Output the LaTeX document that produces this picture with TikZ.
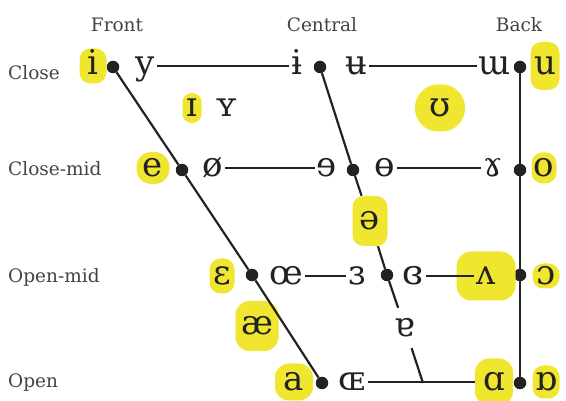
\documentclass[tikz,border=0pt]{standalone}
\usepackage{fontspec}
\setmainfont{DejaVu Serif}
\usepackage{tikz}
\definecolor{marker}{RGB}{240,230,48}
\definecolor{ink}{RGB}{34,34,34}

\begin{document}
\begin{tikzpicture}[x=1pt,y=-1pt,
    dot/.style={circle,fill=ink,inner sep=0pt,minimum size=12.5pt},
    ipa/.style={anchor=base,text=ink,inner sep=2pt,text height=18pt,text depth=0pt,
      font=\fontsize{34}{40}\selectfont},
    hl/.style={ipa,fill=marker,rounded corners=11pt},
    lbl/.style={text=ink!85,inner sep=0pt,font=\fontsize{18.5}{22}\selectfont},
    conn/.style={draw=ink,line width=2.2pt}]
    \useasboundingbox (0,0) rectangle (566,401);
    % column and row labels
    \node[lbl,anchor=base] (front) at (117,32) {Front};
    \node[lbl,anchor=base] (central) at (322,32) {Central};
    \node[lbl,anchor=base] (back) at (519,32) {Back};
    \node[lbl,anchor=base west] (close) at (8,80) {Close};
    \node[lbl,anchor=base west] (closemid) at (8,176) {Close-mid};
    \node[lbl,anchor=base west] (openmid) at (8,283) {Open-mid};
    \node[lbl,anchor=base west] (open) at (8,388) {Open};
    % dots
    \foreach \n/\x/\y in {f1/113/67,f2/182/170,f3/252/275,f4/322/383,
                          c1/320/67,c2/353/170,c3/387/275,
                          b1/520/67,b2/520/170,b3/520/275,b4/520/383}
    {
      \node[dot] (\n) at (\x,\y) {};
    }
    \coordinate (join) at (423,383);
    % close
    \node[hl,minimum width=27pt,minimum height=35pt] (ii) at (93,75) {i};
    \node[ipa] (yy) at (145,75) {y};
    \node[ipa] (ibar) at (297,75) {ɨ};
    \node[ipa] (ubar) at (356,75) {ʉ};
    \node[ipa] (wturn) at (495,75) {ɯ};
    \node[hl,minimum width=29pt,minimum height=48pt] (uu) at (545,75) {u};
    % near-close
    \node[hl,rounded corners=9pt,minimum width=19pt,minimum height=30pt] (ismall) at (192,117) {ɪ};
    \node[ipa] (ysmall) at (227,117) {ʏ};
    \node[hl,rounded corners=23pt,minimum width=50pt,minimum height=47pt] (upsilon) at (440,117) {ʊ};
    % close-mid
    \node[hl,rounded corners=15pt,minimum width=33pt,minimum height=32pt] (ee) at (153,177) {e};
    \node[ipa] (oslash) at (213,177) {ø};
    \node[ipa] (reve) at (327,177) {ɘ};
    \node[ipa] (obar) at (385,177) {ɵ};
    \node[ipa] (ramshorn) at (493,177) {ɤ};
    \node[hl,minimum width=25pt,minimum height=31pt] (oo) at (544,177) {o};
    % mid
    \node[hl,minimum width=35pt,minimum height=50pt] (schwa) at (370,230) {ə};
    % open-mid
    \node[hl,minimum width=25pt,minimum height=35pt] (eps) at (222,285) {ɛ};
    \node[ipa] (oe) at (286,285) {œ};
    \node[ipa] (reveps) at (357,285) {ɜ};
    \node[ipa] (cloeps) at (413,285) {ɞ};
    \node[hl,rounded corners=15pt,minimum width=59pt,minimum height=49pt] (turnv) at (486,285) {ʌ};
    \node[hl,minimum width=27pt,minimum height=25pt] (openo) at (546,285) {ɔ};
    % near-open
    \node[hl,rounded corners=14pt,minimum width=43pt,minimum height=50pt] (ash) at (257,335) {æ};
    \node[ipa,inner ysep=11pt] (turna) at (405,337) {ɐ};
    % open
    \node[hl,rounded corners=14pt,minimum width=38pt,minimum height=37pt] (aa) at (294,391) {a};
    \node[ipa] (OE) at (352,391) {ɶ};
    \node[hl,rounded corners=14pt,minimum width=38pt,minimum height=47pt] (alpha) at (494,391) {ɑ};
    \node[hl,minimum width=27pt,minimum height=33pt] (turnalpha) at (546,391) {ɒ};
    % connectors
    \draw[conn] (yy) -- (ibar);
    \draw[conn] (ubar) -- (wturn);
    \draw[conn] (oslash) -- (reve);
    \draw[conn] (obar) -- (ramshorn);
    \draw[conn] (oe) -- (reveps);
    \draw[conn,shorten >=-18pt] (cloeps) -- (turnv);
    \draw[conn] (OE) -- (alpha);
    \draw[conn] (f1) -- (f2) -- (f3) -- (f4);
    \draw[conn] (b1) -- (b4);
    \draw[conn] (c1) -- (c2) -- (schwa);
    \draw[conn] (schwa) -- (c3) -- (turna);
    \draw[conn] (turna) -- (join);
\end{tikzpicture}
\end{document}
